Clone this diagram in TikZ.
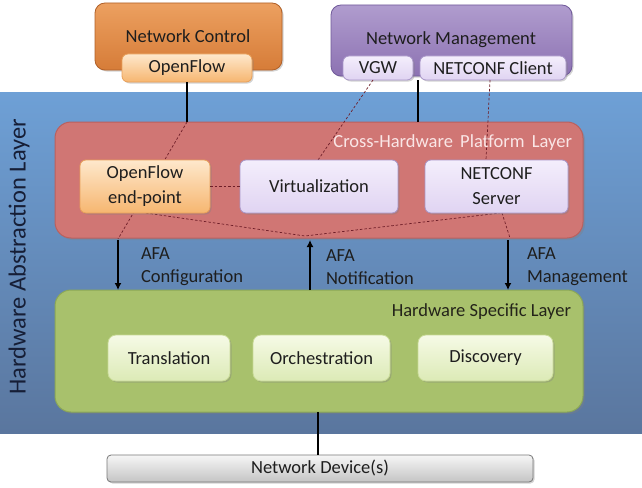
\documentclass[tikz,border=0pt]{standalone}
\usepackage{fontspec}
\setmainfont{Carlito}
\usetikzlibrary{shadows,arrows.meta}
\definecolor{bgtop}{RGB}{110,160,214}
\definecolor{bgbot}{RGB}{90,118,158}
\definecolor{redfill}{RGB}{208,118,116}
\definecolor{redborder}{RGB}{186,96,94}
\definecolor{greenfill}{RGB}{168,193,108}
\definecolor{greenborder}{RGB}{140,168,86}
\definecolor{dashred}{RGB}{110,30,40}
\definecolor{txt}{RGB}{30,30,30}
\begin{document}
\begin{tikzpicture}[x=1pt,y=-1pt,
  font=\fontsize{18.5}{24}\selectfont, text=txt,
  every node/.style={inner sep=0pt, outer sep=0pt},
  box/.style={anchor=north west, rounded corners=6pt, line width=0.8pt, align=center, drop shadow={shadow xshift=1.5pt, shadow yshift=-1.5pt, opacity=0.35}},
  ncbox/.style={box, rounded corners=10pt, top color={rgb,255:red,236;green,160;blue,96}, bottom color={rgb,255:red,214;green,124;blue,56}, draw={rgb,255:red,176;green,96;blue,40}},
  nmbox/.style={box, rounded corners=10pt, top color={rgb,255:red,176;green,156;blue,206}, bottom color={rgb,255:red,140;green,114;blue,178}, draw={rgb,255:red,112;green,90;blue,154}},
  orbox/.style={box, top color={rgb,255:red,254;green,232;blue,204}, bottom color={rgb,255:red,246;green,182;blue,112}, draw={rgb,255:red,232;green,160;blue,90}},
  lvbox/.style={box, top color={rgb,255:red,244;green,238;blue,252}, bottom color={rgb,255:red,224;green,212;blue,242}, draw={rgb,255:red,168;green,150;blue,200}},
  gnbox/.style={box, rounded corners=8pt, top color={rgb,255:red,246;green,250;blue,230}, bottom color={rgb,255:red,220;green,234;blue,182}, draw={rgb,255:red,200;green,218;blue,150}},
  layer/.style={anchor=north west, rounded corners=16pt, line width=1pt, drop shadow={shadow xshift=2pt, shadow yshift=-2pt, opacity=0.35}},
  conn/.style={line width=1.8pt, black},
  dsh/.style={dashed, dashred, line width=0.7pt, dash pattern=on 2.5pt off 2pt},
  arr/.style={line width=1.8pt, -{Latex[length=7pt,width=7pt]}},
  lbl/.style={anchor=west, align=left, font=\fontsize{18.5}{23}\selectfont, text=txt}
]
\useasboundingbox (0,0) rectangle (642,487);
% background
\shade[top color=bgtop, bottom color=bgbot] (0,92) rectangle (642,433);
\node[rotate=90, font=\fontsize{24.5}{28}\selectfont, text={rgb,255:red,22;green,30;blue,54}] (hal) at (19,257) {Hardware Abstraction Layer};

% top boxes
\node[ncbox, minimum width=187pt, minimum height=67pt] (nc) at (95,3) {};
\node (nct) at (188,36) {Network Control};
\node[orbox, minimum width=130pt, minimum height=28pt] (of) at (122,54) {OpenFlow};

\node[nmbox, minimum width=241pt, minimum height=71pt] (nm) at (331,5) {};
\node (nmt) at (451,40) {Network Management};
\node[lvbox, minimum width=70pt, minimum height=24pt] (vgw) at (343,56) {VGW};
\node[lvbox, minimum width=146pt, minimum height=24pt] (ncc) at (420,56) {NETCONF Client};

% layers
\node[layer, fill=redfill, draw=redborder, minimum width=528pt, minimum height=116pt] (red) at (55,122) {};
\node[anchor=east, text={rgb,255:red,250;green,230;blue,230}] (redt) at (572,143) {Cross-Hardware\, Platform\, Layer};
\node[layer, fill=greenfill, draw=greenborder, minimum width=528pt, minimum height=122pt] (green) at (55,290) {};
\node[anchor=east, text={rgb,255:red,36;green,36;blue,26}] (greent) at (571,312) {Hardware Specific Layer};

% connectors top
\coordinate (nmc) at (418,80);
\draw[conn] (of.south) -- (of.south |- red.north);
\draw[conn] (nmc) -- (nmc |- red.north);

% dashed lines (behind inner boxes)
\coordinate (d1a) at (187,122);
\coordinate (d1b) at (118,239);
\coordinate (dv) at (305,236);
\draw[dsh] (d1a) -- (d1b);
\draw[dsh] (vgw.south) ++(-5,0) coordinate (vgwb) -- (318,160);
\draw[dsh] (490,80) coordinate (nccb) -- (486,160);
\draw[dsh] (146,213) -- (dv) -- (500,213);
\draw[dsh] (502,213) -- (510,238);

% inner red boxes
\node[orbox, minimum width=130pt, minimum height=53pt, font=\fontsize{18.5}{25}\selectfont] (ofe) at (80,160) {OpenFlow\\end-point};
\node[lvbox, minimum width=158pt, minimum height=53pt] (virt) at (240,160) {Virtualization};
\node[lvbox, minimum width=143pt, minimum height=53pt, font=\fontsize{18.5}{25}\selectfont] (ncs) at (425,160) {NETCONF\\Server};
\draw[dsh] (ofe.east) -- (virt.west);

% arrows
\coordinate (a1s) at (118,240);
\coordinate (a2s) at (310,240);
\coordinate (a3s) at (508,240);
\draw[arr] (a1s) -- (a1s |- green.north);
\draw[arr] (a2s |- green.north) -- (a2s);
\draw[arr] (a3s) -- (a3s |- green.north);
\node[lbl] (l1) at (141,267) {AFA\\Configuration};
\node[lbl] (l2) at (326,267) {AFA\\Notification};
\node[lbl] (l3) at (527,267) {AFA\\Management};

% inner green boxes
\node[gnbox, minimum width=122pt, minimum height=46pt] (tr) at (108,335) {Translation};
\node[gnbox, minimum width=137pt, minimum height=46pt] (orc) at (253,335) {Orchestration};
\node[gnbox, minimum width=135pt, minimum height=46pt] (dis) at (418,335) {Discovery};

% network device
\node[box, rounded corners=4pt, minimum width=426pt, minimum height=27pt, top color={rgb,255:red,246;green,246;blue,246}, bottom color={rgb,255:red,196;green,196;blue,196}, draw={rgb,255:red,120;green,120;blue,120}] (nd) at (107,455) {Network Device(s)};
\draw[conn] (green.south -| 318,0) -- (nd.north -| 318,0);
\end{tikzpicture}
\end{document}
